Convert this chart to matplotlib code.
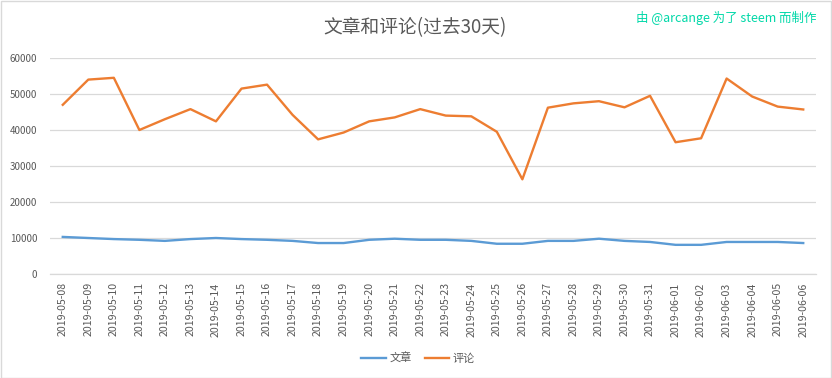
import matplotlib
matplotlib.use("Agg")
import matplotlib.pyplot as plt
from matplotlib.patches import Rectangle

plt.rcParams['font.family'] = ['Noto Sans CJK SC', 'DejaVu Sans']

dates = ["2019-05-08", "2019-05-09", "2019-05-10", "2019-05-11", "2019-05-12", "2019-05-13",
         "2019-05-14", "2019-05-15", "2019-05-16", "2019-05-17", "2019-05-18", "2019-05-19",
         "2019-05-20", "2019-05-21", "2019-05-22", "2019-05-23", "2019-05-24", "2019-05-25",
         "2019-05-26", "2019-05-27", "2019-05-28", "2019-05-29", "2019-05-30", "2019-05-31",
         "2019-06-01", "2019-06-02", "2019-06-03", "2019-06-04", "2019-06-05", "2019-06-06"]
posts = [10300, 10000, 9700, 9500, 9200, 9700, 10000, 9700, 9500, 9200, 8600, 8600,
         9500, 9800, 9500, 9500, 9200, 8400, 8400, 9200, 9200, 9800, 9200, 8900,
         8100, 8100, 8900, 8900, 8900, 8600]
comments = [47000, 54000, 54500, 40000, 43000, 45800, 42400, 51500, 52600, 44200, 37400, 39300,
            42400, 43500, 45800, 44000, 43800, 39500, 26300, 46200, 47400, 48000, 46300, 49500,
            36600, 37700, 54300, 49300, 46500, 45700]
series_names = ["文章", "评论"]
yticks = [0, 10000, 20000, 30000, 40000, 50000, 60000]

W, H = 832, 378
fig = plt.figure(figsize=(W / 100, H / 100), dpi=100)
ax = fig.add_axes([50 / W, 1 - 274 / H, (816 - 50) / W, (274 - 58) / H])

x = list(range(len(dates)))
l1, = ax.plot(x, posts, color="#5B9BD5", lw=1.7, solid_joinstyle="round")
l2, = ax.plot(x, comments, color="#ED7D31", lw=1.7, solid_joinstyle="round")

ax.set_xlim(-0.5, len(dates) - 0.5)
ax.set_ylim(0, 60000)
ax.set_yticks(yticks)
ax.set_yticklabels([str(v) for v in yticks], color="#595959", fontsize=7)
ax.set_xticks(x)
ax.set_xticklabels(dates, rotation=90, color="#595959", fontsize=7.6)
ax.tick_params(axis="both", length=0)
ax.tick_params(axis="y", pad=9)
ax.tick_params(axis="x", pad=6)
ax.grid(axis="y", color="#D9D9D9", lw=0.9)
ax.set_axisbelow(True)
for s in ["top", "right", "left"]:
    ax.spines[s].set_visible(False)
ax.spines["bottom"].set_color("#D9D9D9")
ax.spines["bottom"].set_linewidth(0.9)

fig.text(415 / W, 1 - 28 / H, "文章和评论(过去30天)", ha="center", va="center",
         fontsize=13.5, color="#595959")
fig.text(817 / W, 1 - 18 / H, "由 @arcange 为了 steem 而制作", ha="right", va="center",
         fontsize=9, color="#00D8A8")

fig.legend([l1, l2], series_names, loc="center", bbox_to_anchor=(418 / W, 1 - 358 / H),
           ncol=2, frameon=False, fontsize=8, labelcolor="#595959",
           handlelength=2.2, columnspacing=1.2, handletextpad=0.3)

fig.patches.append(Rectangle((0.5 / W, 0.5 / H), 1 - 1.5 / W, 1 - 1.5 / H, transform=fig.transFigure,
                             fill=False, edgecolor="#D9D9D9", lw=1))

fig.savefig("out.png", dpi=100)
